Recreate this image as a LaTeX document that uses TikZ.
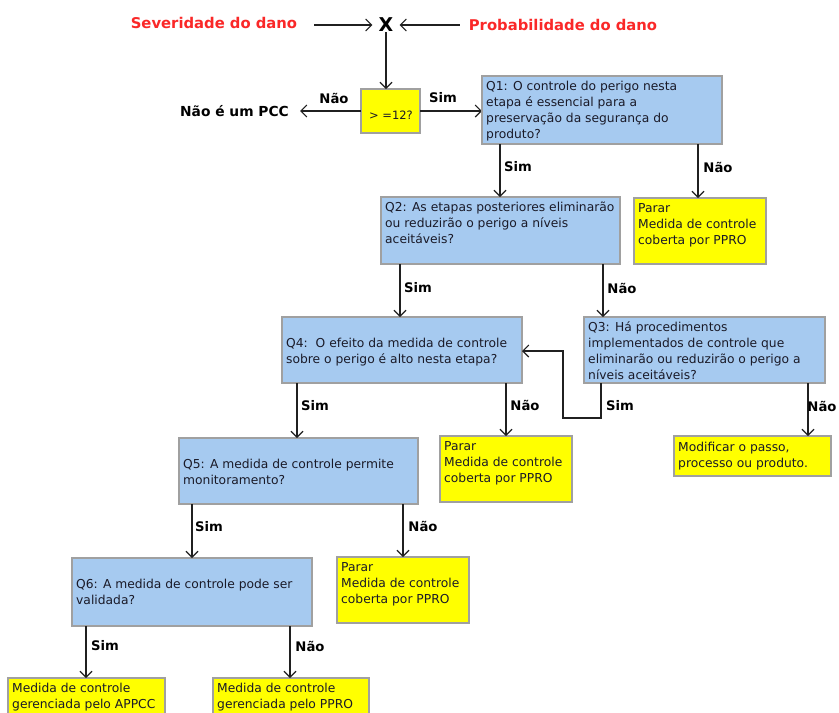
\documentclass[tikz,border=0pt]{standalone}
\usepackage{fontspec}
\setmainfont{DejaVu Sans}
\usetikzlibrary{arrows.meta}
\definecolor{qblue}{HTML}{A6CAF0}
\definecolor{pyellow}{HTML}{FFFF00}
\definecolor{bordergray}{HTML}{A0A0A0}
\definecolor{redtxt}{HTML}{FA2828}
\definecolor{linec}{HTML}{202020}
\definecolor{txtc}{HTML}{1A1A28}
% #1 name, #2 style, #3 x1, #4 y1, #5 x2, #6 y2, #7 text, #8 text offset
\newcommand{\mkbox}[8]{%
  \node[#2, minimum width={#5-#3}, minimum height={#6-#4}] (#1) at (#3,#4) {};
  \node[boxtext] (#1t) at ({#3+4},{#4+#8}) {\strut #7};
}
\begin{document}
\begin{tikzpicture}[x=1pt,y=-1pt,
  boxbase/.style={anchor=north west, inner sep=0pt, outer sep=0pt, draw=bordergray, line width=1.2pt},
  qbox/.style={boxbase, fill=qblue},
  ybox/.style={boxbase, fill=pyellow},
  boxtext/.style={anchor=north west, inner sep=0pt, align=left, text=txtc, font=\fontsize{12.3}{15.8}\selectfont},
  lbl/.style={inner sep=0pt, font=\bfseries\fontsize{13.2}{15}\selectfont},
  redlbl/.style={inner sep=0pt, text=redtxt, font=\bfseries\fontsize{14.8}{17}\selectfont},
  arr/.style={draw=linec, line width=1.1pt, -{Straight Barb[length=6pt,width=12pt,line width=1.1pt]}}
]
\useasboundingbox (0,0) rectangle (839,713);
\fill[white] (0,0) rectangle (839,713);

% top
\node[redlbl] (sev) at (214,23) {Severidade do dano};
\node[redlbl] (prob) at (563,25) {Probabilidade do dano};
\node[inner sep=0pt, font=\bfseries\fontsize{19}{20}\selectfont] (xx) at (386,25) {X};
\draw[arr, shorten <=17pt, shorten >=6pt] (sev.east |- xx.center) -- (xx.west);
\draw[arr, shorten <=9pt, shorten >=6pt] (prob.west |- xx.center) -- (xx.east);

\node[ybox, minimum width=59, minimum height=44] (cond) at (361,89) {};
\node[inner sep=0pt, text=txtc, font=\fontsize{11.5}{14}\selectfont] (condt) at (391,115) {> =12?};
\draw[arr] (xx.south) -- (xx.south |- cond.north);

\node[inner sep=0pt, font=\bfseries\fontsize{13.8}{16}\selectfont] (npcc) at (234.5,111) {Não é um PCC};
\draw[arr, shorten >=11pt] (cond.west) -- (cond.west -| npcc.east);
\draw[arr] (cond.east) -- (cond.east -| 482,0);

\node[lbl] (l0n) at (334,98) {Não};
\node[lbl] (l0s) at (443,98) {Sim};

% boxes
\mkbox{q1}{qbox}{482}{76}{722}{144}{Q1: O controle do perigo nesta\\etapa é essencial para a\\preservação da segurança do\\produto?}{3.5}
\mkbox{q2}{qbox}{381}{197}{620}{264}{Q2: As etapas posteriores eliminarão\\ou reduzirão o perigo a níveis\\aceitáveis?}{3.5}
\mkbox{p1}{ybox}{634}{198}{766}{264}{Parar\\Medida de controle\\coberta por PPRO}{3.5}
\mkbox{q4}{qbox}{282}{317}{522}{383}{Q4:\ \ O efeito da medida de controle\\sobre o perigo é alto nesta etapa?}{19.3}
\mkbox{q3}{qbox}{584}{317}{825}{383}{Q3: Há procedimentos\\implementados de controle que\\eliminarão ou reduzirão o perigo a\\níveis aceitáveis?}{3.5}
\mkbox{p2}{ybox}{440}{436}{572}{502}{Parar\\Medida de controle\\coberta por PPRO}{3.5}
\mkbox{mod}{ybox}{674}{436}{831}{476}{Modificar o passo,\\processo ou produto.}{4}
\mkbox{q5}{qbox}{179}{438}{418}{504}{Q5: A medida de controle permite\\monitoramento?}{19.3}
\mkbox{p3}{ybox}{337}{557}{469}{623}{Parar\\Medida de controle\\coberta por PPRO}{3.5}
\mkbox{q6}{qbox}{72}{558}{312}{626}{Q6: A medida de controle pode ser\\validada?}{19.3}
\mkbox{b1}{ybox}{8}{678}{165}{722}{Medida de controle\\gerenciada pelo APPCC}{3.5}
\mkbox{b2}{ybox}{213}{678}{369}{722}{Medida de controle\\gerenciada pelo PPRO}{3.5}

% arrows
\draw[arr] (500,0 |- q1.south) -- (500,0 |- q2.north);
\draw[arr] (698,0 |- q1.south) -- (698,0 |- p1.north);
\draw[arr] (400,0 |- q2.south) -- (400,0 |- q4.north);
\draw[arr] (603,0 |- q2.south) -- (603,0 |- q3.north);
\draw[arr] (297,0 |- q4.south) -- (297,0 |- q5.north);
\draw[arr] (506,0 |- q4.south) -- (506,0 |- p2.north);
\draw[arr] (808,0 |- q3.south) -- (808,0 |- mod.north);
\draw[arr] (192,0 |- q5.south) -- (192,0 |- q6.north);
\draw[arr] (403,0 |- q5.south) -- (403,0 |- p3.north);
\draw[arr] (86,0 |- q6.south) -- (86,0 |- b1.north);
\draw[arr] (290,0 |- q6.south) -- (290,0 |- b2.north);
\draw[arr] (601,0 |- q3.south) -- (601,418) -- (563,418) -- (563,351) -- (q4.east |- 0,351);

% labels
\node[lbl] (l1s) at (518,167) {Sim};
\node[lbl] (l1n) at (718,167) {Não};
\node[lbl] (l2s) at (418,288) {Sim};
\node[lbl] (l2n) at (622,288) {Não};
\node[lbl] (l3s) at (620,406) {Sim};
\node[lbl] (l3n) at (822,406) {Não};
\node[lbl] (l4s) at (315,406) {Sim};
\node[lbl] (l4n) at (525,405) {Não};
\node[lbl] (l5s) at (209,527) {Sim};
\node[lbl] (l5n) at (423,526) {Não};
\node[lbl] (l6s) at (105,646) {Sim};
\node[lbl] (l6n) at (310,646) {Não};
\end{tikzpicture}
\end{document}
